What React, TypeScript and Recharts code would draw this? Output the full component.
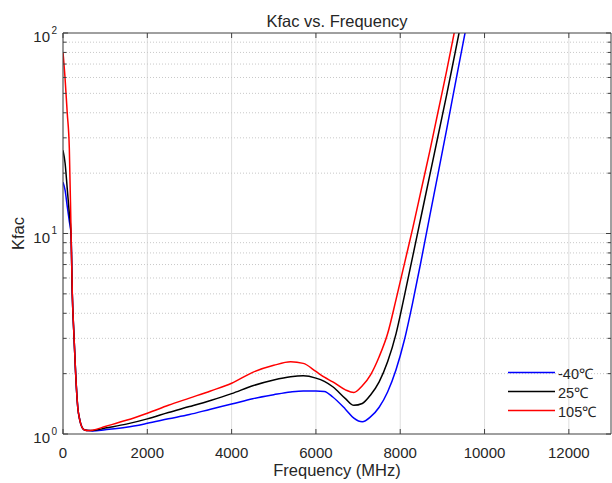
import React from "react";
import {
  LineChart,
  Line,
  XAxis,
  YAxis,
  CartesianGrid,
  Legend,
  Label,
} from "recharts";

// frekuensi (MHz) dan nilai Kfac tiap suhu
const FREQ = [
  0, 50, 100, 150, 190, 220, 260, 300, 350, 400, 450, 500, 600, 700, 1000,
  1500, 2000, 2500, 3000, 3500, 4000, 4500, 5000, 5400, 5700, 6000, 6200,
  6400, 6700, 6900, 7100, 7300, 7500, 7700, 7900, 8100, 8300, 8500, 8700,
  8900, 9100, 9300, 9500, 9700,
];

const KFAC_M40 = [
  18, 16.4, 13.7, 11.5, 10, 5, 3.1, 2.0, 1.36, 1.17, 1.08, 1.05, 1.04, 1.035,
  1.05, 1.08, 1.13, 1.19, 1.25, 1.33, 1.41, 1.5, 1.57, 1.62, 1.64, 1.64, 1.63,
  1.53, 1.33, 1.2, 1.15, 1.22, 1.36, 1.62, 2.09, 2.95, 4.57, 7.4, 12.2, 20,
  33, 55, 91, 151,
];

const KFAC_25 = [
  26, 22.4, 16.8, 12.6, 10, 5, 3.1, 2.0, 1.36, 1.17, 1.08, 1.05, 1.04, 1.04,
  1.07, 1.12, 1.19, 1.28, 1.37, 1.47, 1.59, 1.74, 1.86, 1.93, 1.95, 1.9, 1.83,
  1.72, 1.5, 1.39, 1.42, 1.57, 1.82, 2.29, 3.16, 4.9, 7.76, 12.3, 19.5, 30.9,
  49, 79.4, 129, 209,
];

const KFAC_105 = [
  80, 59, 40, 26.6, 10.5, 5.1, 3.1, 2.0, 1.36, 1.17, 1.08, 1.05, 1.04, 1.045,
  1.09, 1.17, 1.27, 1.39, 1.51, 1.64, 1.79, 2.03, 2.2, 2.29, 2.25, 2.05, 1.92,
  1.82, 1.66, 1.61, 1.74, 1.98, 2.43, 3.16, 4.68, 7.08, 10.7, 16.6, 25.7,
  40.7, 64.6, 105, 170, 275,
];

const SERIES_NAMES = ["-40℃", "25℃", "105℃"];

const X_TICKS = [0, 2000, 4000, 6000, 8000, 10000, 12000];
const Y_TICKS = [
  1, 2, 3, 4, 5, 6, 7, 8, 9, 10, 20, 30, 40, 50, 60, 70, 80, 90, 100,
];
const Y_MAJOR = [1, 10, 100];
const Y_MINOR = Y_TICKS.filter((v) => !Y_MAJOR.includes(v));

const chartData = FREQ.map((f, i) => ({
  f,
  m40: KFAC_M40[i],
  t25: KFAC_25[i],
  t105: KFAC_105[i],
}));

const AXIS = "#404040";
const TEXT = "#262626";
const FONT = "'Liberation Sans', Arial, Helvetica, sans-serif";

const BottomTick = (props: any) => {
  const { x, y, payload } = props;
  return (
    <g>
      <line x1={x} y1={y} x2={x} y2={y - 5} stroke={AXIS} />
      <text x={x} y={y + 24} textAnchor="middle" fontSize={15} fill={TEXT}>
        {payload.value}
      </text>
    </g>
  );
};

const TopTick = (props: any) => {
  const { x, y } = props;
  return <line x1={x} y1={y} x2={x} y2={y + 5} stroke={AXIS} />;
};

const LeftTick = (props: any) => {
  const { x, y, payload } = props;
  const major = Y_MAJOR.includes(payload.value);
  return (
    <g>
      <line x1={x} y1={y} x2={x + (major ? 5 : 3.5)} y2={y} stroke={AXIS} />
      {major && (
        <>
          <text x={x - 13} y={y + 9} textAnchor="end" fontSize={15} fill={TEXT}>
            10
          </text>
          <text x={x - 11.5} y={y + 0.5} fontSize={10} fill={TEXT}>
            {Math.round(Math.log10(payload.value))}
          </text>
        </>
      )}
    </g>
  );
};

const RightTick = (props: any) => {
  const { x, y, payload } = props;
  const major = Y_MAJOR.includes(payload.value);
  return (
    <line x1={x} y1={y} x2={x - (major ? 5 : 3.5)} y2={y} stroke={AXIS} />
  );
};

const renderLegend = (props: any) => {
  const items = [...(props.payload || [])].sort(
    (a: any, b: any) =>
      SERIES_NAMES.indexOf(a.value) - SERIES_NAMES.indexOf(b.value)
  );
  return (
    <div style={{ display: "flex", flexDirection: "column" }}>
      {items.map((entry: any, i: number) => (
        <div
          key={i}
          style={{ display: "flex", alignItems: "center", height: 19 }}
        >
          <svg width={50} height={19}>
            <line
              x1={3}
              y1={9.5}
              x2={50}
              y2={9.5}
              stroke={entry.color}
              strokeWidth={1.5}
            />
          </svg>
          <span
            style={{
              fontSize: 14.5,
              color: TEXT,
              marginLeft: 3,
              whiteSpace: "nowrap",
            }}
          >
            {entry.value}
          </span>
        </div>
      ))}
    </div>
  );
};

export default function App() {
  return (
    <div
      style={{
        position: "absolute",
        left: 0,
        top: 0,
        width: 612,
        height: 483,
        background: "#fff",
        fontFamily: FONT,
      }}
    >
      <LineChart
        width={612}
        height={483}
        data={chartData}
        margin={{ top: 32, right: 0, bottom: 0, left: 0 }}
      >
        <CartesianGrid
          verticalValues={X_TICKS}
          horizontalValues={[10]}
          stroke="#dedede"
        />
        <CartesianGrid
          vertical={false}
          horizontalValues={Y_MINOR}
          stroke="#c8c8c8"
          strokeDasharray="1 2"
        />
        <XAxis
          dataKey="f"
          type="number"
          domain={[0, 13000]}
          allowDataOverflow
          ticks={X_TICKS}
          interval={0}
          height={49}
          tickSize={0}
          tickMargin={0}
          tickLine={false}
          axisLine={{ stroke: AXIS }}
          tick={<BottomTick />}
        >
          <Label
            value="Frequency (MHz)"
            position="insideBottom"
            offset={7}
            fontSize={16.5}
            fill={TEXT}
          />
        </XAxis>
        <XAxis
          xAxisId="top"
          orientation="top"
          dataKey="f"
          type="number"
          domain={[0, 13000]}
          allowDataOverflow
          ticks={X_TICKS}
          interval={0}
          height={1}
          tickSize={0}
          tickMargin={0}
          tickLine={false}
          axisLine={{ stroke: AXIS }}
          tick={<TopTick />}
        >
          <Label
            value="Kfac vs. Frequency"
            position="top"
            offset={5.5}
            fontSize={16.5}
            fill={TEXT}
          />
        </XAxis>
        <YAxis
          scale="log"
          domain={[1, 100]}
          allowDataOverflow
          ticks={Y_TICKS}
          interval={0}
          width={63}
          tickSize={0}
          tickMargin={0}
          tickLine={false}
          axisLine={{ stroke: AXIS }}
          tick={<LeftTick />}
        >
          <Label
            value="Kfac"
            angle={-90}
            position="insideLeft"
            offset={18.5}
            textAnchor="middle"
            fontSize={16.5}
            fill={TEXT}
          />
        </YAxis>
        <YAxis
          yAxisId="r"
          orientation="right"
          scale="log"
          domain={[1, 100]}
          allowDataOverflow
          ticks={Y_TICKS}
          interval={0}
          width={1}
          tickSize={0}
          tickMargin={0}
          tickLine={false}
          axisLine={{ stroke: AXIS }}
          tick={<RightTick />}
        />
        <Legend
          layout="vertical"
          align="center"
          verticalAlign="middle"
          content={renderLegend}
          wrapperStyle={{ left: 505, top: 363, width: 100 }}
        />
        <Line
          type="monotone"
          dataKey="m40"
          name={SERIES_NAMES[0]}
          stroke="#0000ff"
          strokeWidth={1.5}
          dot={false}
          isAnimationActive={false}
        />
        <Line
          type="monotone"
          dataKey="t25"
          name={SERIES_NAMES[1]}
          stroke="#000000"
          strokeWidth={1.5}
          dot={false}
          isAnimationActive={false}
        />
        <Line
          type="monotone"
          dataKey="t105"
          name={SERIES_NAMES[2]}
          stroke="#ff0000"
          strokeWidth={1.5}
          dot={false}
          isAnimationActive={false}
        />
      </LineChart>
    </div>
  );
}
